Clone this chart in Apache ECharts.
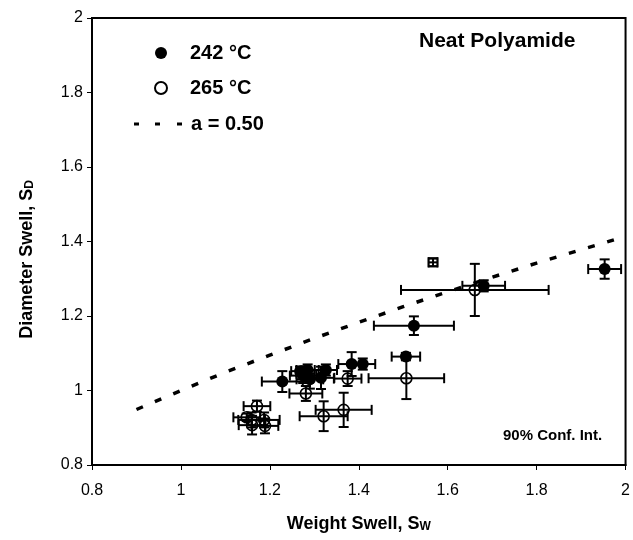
<!DOCTYPE html>
<html>
<head>
<meta charset="utf-8">
<script src="https://cdn.jsdelivr.net/npm/echarts@6/dist/echarts.min.js"></script>
<style>
html,body{margin:0;padding:0;background:#fff;}
#chart{width:633px;height:540px;}
</style>
</head>
<body>
<div id="chart"></div>
<script>
// [weight swell, diameter swell, x half-interval, y half-interval]
const filled242 = [
  [1.228, 1.024, 0.046, 0.028],
  [1.268, 1.052, 0.020, 0.012],
  [1.275, 1.040, 0.030, 0.020],
  [1.285, 1.055, 0.025, 0.015],
  [1.290, 1.030, 0.030, 0.025],
  [1.280, 1.045, 0.020, 0.020],
  [1.315, 1.034, 0.030, 0.030],
  [1.326, 1.055, 0.025, 0.015],
  [1.384, 1.071, 0.030, 0.032],
  [1.409, 1.071, 0.028, 0.015],
  [1.506, 1.091, 0.032, 0.010],
  [1.524, 1.174, 0.090, 0.025],
  [1.681, 1.281, 0.048, 0.015],
  [1.953, 1.326, 0.037, 0.026]
];
const open265 = [
  [1.148, 0.928, 0.030, 0.010],
  [1.159, 0.921, 0.030, 0.020],
  [1.160, 0.907, 0.030, 0.025],
  [1.187, 0.921, 0.035, 0.020],
  [1.189, 0.905, 0.030, 0.020],
  [1.171, 0.958, 0.030, 0.015],
  [1.281, 0.992, 0.037, 0.020],
  [1.321, 0.931, 0.054, 0.040],
  [1.366, 0.948, 0.063, 0.046],
  [1.375, 1.032, 0.031, 0.020],
  [1.507, 1.033, 0.085, 0.056],
  [1.661, 1.270, 0.166, 0.070]
];
const boxedPoint = [
  [1.567, 1.344, 0.010, 0.010]
];
// dashed model curve a = 0.50
const curveX = [0.9, 1.0, 1.1, 1.2, 1.3, 1.4, 1.5, 1.6, 1.7, 1.8, 1.9, 2.0];
const curveY = [0.949, 1.0, 1.049, 1.095, 1.140, 1.183, 1.225, 1.265, 1.304, 1.342, 1.378, 1.414];

const xTicks = [0.8, 1, 1.2, 1.4, 1.6, 1.8, 2];
const yTicks = [0.8, 1, 1.2, 1.4, 1.6, 1.8, 2];

const FONT = '"Liberation Sans", Arial, Helvetica, sans-serif';
const allBars = filled242.concat(open265, boxedPoint);

function renderErr(params, api) {
  const x = api.value(0), y = api.value(1), xe = api.value(2), ye = api.value(3);
  const l = api.coord([x - xe, y]);
  const r = api.coord([x + xe, y]);
  const t = api.coord([x, y + ye]);
  const b = api.coord([x, y - ye]);
  const cap = 5;
  const st = { stroke: '#000', lineWidth: 2, fill: null };
  const lines = [
    [l[0], l[1], r[0], r[1]],
    [t[0], t[1], b[0], b[1]],
    [l[0], l[1] - cap, l[0], l[1] + cap],
    [r[0], r[1] - cap, r[0], r[1] + cap],
    [t[0] - cap, t[1], t[0] + cap, t[1]],
    [b[0] - cap, b[1], b[0] + cap, b[1]]
  ];
  return {
    type: 'group',
    children: lines.map(p => ({
      type: 'line',
      shape: { x1: p[0], y1: p[1], x2: p[2], y2: p[3] },
      style: st
    }))
  };
}

const subRich = { sub: { fontFamily: FONT, fontSize: 12, fontWeight: 'bold', color: '#000', verticalAlign: 'bottom', lineHeight: 14, padding: [8, 0, 0, 0] } };

const chart = echarts.init(document.getElementById('chart'), null, { renderer: 'canvas' });
chart.setOption({
  backgroundColor: '#fff',
  animation: false,
  textStyle: { fontFamily: FONT },
  grid: {
    left: 92, right: 7, top: 18, bottom: 75,
    show: true, borderColor: '#000', borderWidth: 2, backgroundColor: 'transparent'
  },
  legend: [
    {
      orient: 'vertical', left: 149, top: 38,
      itemGap: 15, itemWidth: 12, itemHeight: 12,
      textStyle: { fontFamily: FONT, fontSize: 20, fontWeight: 'bold', color: '#000', padding: [0, 0, 0, 18] },
      data: [
        { name: '242 °C', icon: 'circle' },
        { name: '265 °C', icon: 'circle' }
      ]
    },
    {
      orient: 'vertical', left: 129, top: 109,
      itemWidth: 48, itemHeight: 3,
      textStyle: { fontFamily: FONT, fontSize: 20, fontWeight: 'bold', color: '#000', padding: [0, 0, 0, 4] },
      data: [
        { name: 'a = 0.50', icon: 'path://M0,0h5v3h-5zM21,0h5v3h-5zM43,0h5v3h-5z', itemStyle: { color: '#000' } }
      ]
    }
  ],
  xAxis: {
    type: 'value', min: 0.8, max: 2, interval: 0.2,
    name: 'Weight Swell, S{sub|W}',
    nameLocation: 'middle', nameGap: 50,
    nameTextStyle: { fontFamily: FONT, fontSize: 18, fontWeight: 'bold', color: '#000', rich: subRich },
    axisLine: { show: true, onZero: false, lineStyle: { color: '#000', width: 2 } },
    axisTick: { show: true, inside: false, length: 5, lineStyle: { color: '#000', width: 1 } },
    axisLabel: {
      fontFamily: FONT, fontSize: 16, color: '#000', margin: 18,
      formatter: v => String(xTicks.find(t => Math.abs(t - v) < 1e-6) ?? v)
    },
    splitLine: { show: false }
  },
  yAxis: {
    type: 'value', min: 0.8, max: 2, interval: 0.2,
    name: 'Diameter Swell, S{sub|D}',
    nameLocation: 'middle', nameGap: 56, nameRotate: 90,
    nameTextStyle: { fontFamily: FONT, fontSize: 18, fontWeight: 'bold', color: '#000', rich: subRich, padding: [0, 36, 0, 0] },
    axisLine: { show: true, onZero: false, lineStyle: { color: '#000', width: 2 } },
    axisTick: { show: true, inside: false, length: 5, lineStyle: { color: '#000', width: 1 } },
    axisLabel: {
      fontFamily: FONT, fontSize: 16, color: '#000', margin: 9,
      formatter: v => String(yTicks.find(t => Math.abs(t - v) < 1e-6) ?? v)
    },
    splitLine: { show: false }
  },
  graphic: [
    { type: 'text', left: 419, top: 31, style: { text: 'Neat Polyamide', font: 'bold 21px ' + FONT, fill: '#000' } },
    { type: 'text', left: 503, top: 428, style: { text: '90% Conf. Int.', font: 'bold 15px ' + FONT, fill: '#000' } }
  ],
  series: [
    {
      name: 'a = 0.50', type: 'line', showSymbol: false, symbol: 'none',
      data: curveX.map((x, i) => [x, curveY[i]]),
      lineStyle: { color: '#000', width: 3.5, type: [7, 13] },
      itemStyle: { color: '#000' },
      z: 1
    },
    {
      name: 'errbars', type: 'custom', renderItem: renderErr,
      data: allBars, encode: { x: 0, y: 1 }, z: 2, silent: true
    },
    {
      name: '265 °C', type: 'scatter', data: open265.map(d => [d[0], d[1]]),
      symbol: 'circle', symbolSize: 11,
      itemStyle: { color: 'rgba(255,255,255,0)', borderColor: '#000', borderWidth: 1.6, opacity: 1 },
      z: 3
    },
    {
      name: '242 °C', type: 'scatter', data: filled242.map(d => [d[0], d[1]]),
      symbol: 'circle', symbolSize: 12,
      itemStyle: { color: '#000', opacity: 1 },
      z: 4
    },
    {
      name: 'boxed', type: 'scatter', data: boxedPoint.map(d => [d[0], d[1]]),
      symbol: 'rect', symbolSize: 9,
      itemStyle: { color: 'rgba(255,255,255,0)', borderColor: '#000', borderWidth: 1.5 },
      z: 4
    }
  ]
});
</script>
</body>
</html>
